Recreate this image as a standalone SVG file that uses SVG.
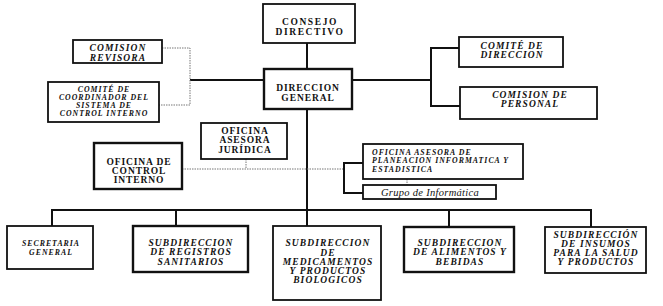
<svg xmlns="http://www.w3.org/2000/svg" width="663" height="306" viewBox="0 0 663 306">
<style>
.box{fill:#fff;stroke:#111;stroke-width:1.8}
.thick{stroke-width:2.4}
.ln{fill:none;stroke:#111;stroke-width:2}
.dot{fill:none;stroke:#777;stroke-width:1;stroke-dasharray:1.5 1}
text{font-family:"Liberation Serif","Times New Roman",serif;font-weight:bold;fill:#111;text-anchor:middle}
.n{font-size:9.5px;letter-spacing:0.9px}
.w{letter-spacing:1.6px}
.i{font-size:9.5px;font-style:italic;letter-spacing:1.1px}
.s{font-size:7.8px;font-style:italic;letter-spacing:1px}
.g{font-size:10.5px;font-style:italic;font-weight:normal;letter-spacing:0.3px}
</style>
<g id="connectors">
<path class="ln" d="M307 43V226"/>
<path class="ln" d="M190 80H264"/>
<path class="dot" d="M162 48H190V105H159"/>
<path class="ln" d="M352 80H431M459 48H431V106H460"/>
<path class="dot" d="M182 169H344M246 159V169M407 179V185"/>
<path class="ln" d="M363 163H344V193H363"/>
<path class="ln" d="M52 226V210H591V227M176 210V226M449 210V227"/>
</g>
<g id="consejo"><rect class="box" x="263" y="4" width="92" height="39"/><text class="n w" x="310" y="25">CONSEJO</text><text class="n w" x="310" y="35">DIRECTIVO</text></g>
<g id="direccion"><rect class="box thick" x="264" y="69" width="88" height="40"/><text class="n" x="308" y="91">DIRECCION</text><text class="n" x="308" y="101">GENERAL</text></g>
<g id="revisora"><rect class="box" x="73" y="40" width="89" height="23"/><text class="i" x="118" y="51">COMISION</text><text class="i" x="118" y="61">REVISORA</text></g>
<g id="coordinador"><rect class="box" x="48" y="82" width="111" height="40"/><text class="s" x="104" y="92">COMITÉ DE</text><text class="s" x="104" y="100">COORDINADOR DEL</text><text class="s" x="104" y="108">SISTEMA DE</text><text class="s" x="104" y="116">CONTROL INTERNO</text></g>
<g id="comite-direccion"><rect class="box" x="459" y="37" width="104" height="30"/><text class="i" x="512" y="49">COMITÉ  DE</text><text class="i" x="512" y="58">DIRECCION</text></g>
<g id="comision-personal"><rect class="box" x="460" y="87" width="137" height="32"/><text class="i" x="530" y="98">COMISION DE</text><text class="i" x="530" y="107">PERSONAL</text></g>
<g id="juridica"><rect class="box" x="201" y="123" width="86" height="36"/><text class="n" x="245" y="134">OFICINA</text><text class="n" x="245" y="143">ASESORA</text><text class="n" x="245" y="153">JURÍDICA</text></g>
<g id="control-interno"><rect class="box thick" x="94" y="143" width="88" height="46"/><text class="n" x="139" y="165">OFICINA DE</text><text class="n" x="139" y="174">CONTROL</text><text class="n" x="139" y="183">INTERNO</text></g>
<g id="planeacion"><rect class="box" x="363" y="144" width="160" height="35"/><text class="s" x="372" y="155" style="text-anchor:start">OFICINA ASESORA DE</text><text class="s" x="372" y="163" style="text-anchor:start">PLANEACION INFORMATICA Y</text><text class="s" x="372" y="172" style="text-anchor:start">ESTADISTICA</text></g>
<g id="informatica"><rect class="box" x="363" y="185" width="133" height="14"/><text class="g" x="430" y="196">Grupo de Informática</text></g>
<g id="secretaria"><rect class="box" x="7" y="226" width="86" height="43"/><text class="s" x="51" y="246">SECRETARIA</text><text class="s" x="51" y="255">GENERAL</text></g>
<g id="registros"><rect class="box thick" x="133" y="226" width="115" height="46"/><text class="i" x="191" y="246">SUBDIRECCION</text><text class="i" x="191" y="255">DE REGISTROS</text><text class="i" x="191" y="265">SANITARIOS</text></g>
<g id="medicamentos"><rect class="box" x="273" y="226" width="108" height="74"/><text class="i" x="328" y="246">SUBDIRECCION</text><text class="i" x="328" y="256">DE</text><text class="i" x="328" y="265">MEDICAMENTOS</text><text class="i" x="328" y="274">Y PRODUCTOS</text><text class="i" x="328" y="283">BIOLOGICOS</text></g>
<g id="alimentos"><rect class="box thick" x="404" y="227" width="110" height="45"/><text class="i" x="460" y="246">SUBDIRECCION</text><text class="i" x="460" y="255">DE ALIMENTOS Y</text><text class="i" x="460" y="265">BEBIDAS</text></g>
<g id="insumos"><rect class="box" x="545" y="227" width="101" height="46"/><text class="i" x="596" y="238">SUBDIRECCIÓN</text><text class="i" x="596" y="247">DE  INSUMOS</text><text class="i" x="596" y="256">PARA LA SALUD</text><text class="i" x="596" y="265">Y PRODUCTOS</text></g>
</svg>
